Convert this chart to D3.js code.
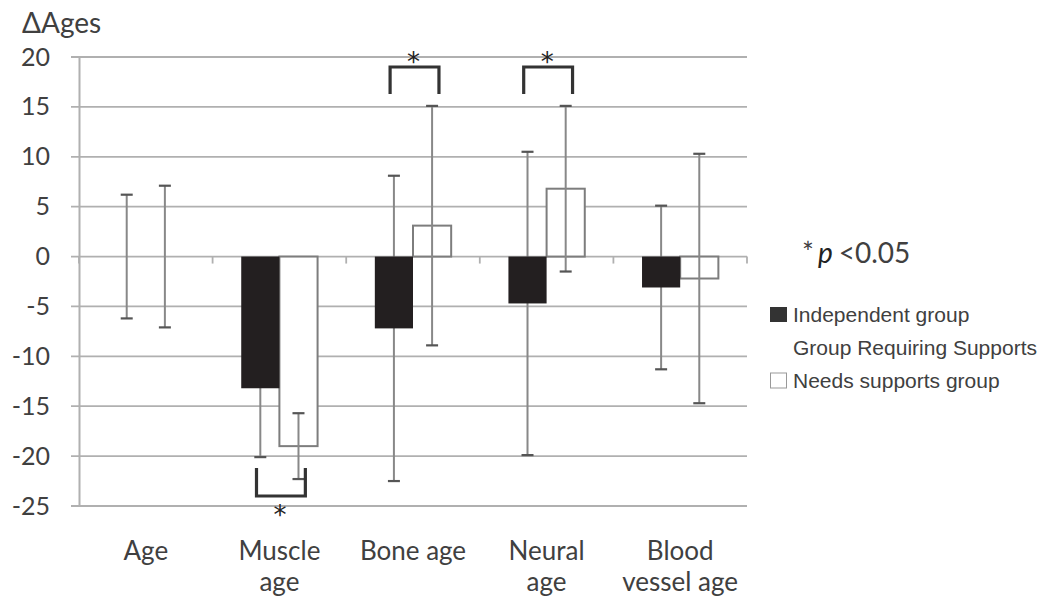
<!DOCTYPE html>
<html lang="en">
<head>
  <meta charset="UTF-8" />
  <script src="https://d3js.org/d3.v7.min.js"></script>
  <style>
    html, body { margin: 0; padding: 0; background: #fff; }
    svg { display: block; }
  </style>
</head>
<body>
<svg id="chart" width="1046" height="604"></svg>
<script>
// categories and the two groups
var categories = ["Age", "Muscle age", "Bone age", "Neural age", "Blood vessel age"];
var catLabels = [["Age"], ["Muscle", "age"], ["Bone age"], ["Neural", "age"], ["Blood", "vessel age"]];
var groups = ["independent", "needs"];
var groupNames = ["Independent group", "Group Requiring Supports", "Needs supports group"];

// mean delta ages and SD
var independentMean = [0, -13.2, -7.2, -4.7, -3.1];
var independentSD   = [6.2, 6.9, 15.3, 15.2, 8.2];
var needsMean       = [0, -19.0, 3.1, 6.8, -2.2];
var needsSD         = [7.1, 3.3, 12.0, 8.3, 12.5];

var yTicks = [20, 15, 10, 5, 0, -5, -10, -15, -20, -25];

// significance brackets: category, where the bar of the bracket sits, where its legs end
var sigCats = ["Muscle age", "Bone age", "Neural age"];
var sigBar  = [-24.0, 19.0, 19.0];
var sigLeg  = [-21.2, 16.3, 16.3];

var svg = d3.select("#chart");
// note: "top" is taken by window.top, so use other names
var plotL = 79, plotR = 747, plotT = 57, plotB = 506;

var y = d3.scaleLinear().domain([-25, 20]).range([plotB, plotT]);
var x = d3.scaleBand().domain(categories).range([plotL, plotR]).padding(0);
// excel gap width 150% -> outer padding .75 bar on each side
var x1 = d3.scaleBand().domain(groups).range([0, x.bandwidth()]).paddingInner(0).paddingOuter(0.75);

var data = [];
categories.forEach(function(c, i) {
  data.push({cat: c, g: "independent", v: independentMean[i], sd: independentSD[i]});
  data.push({cat: c, g: "needs", v: needsMean[i], sd: needsSD[i]});
});

var grid = "#b0b0b0";
var txt = "#404040";
var calibriLike = "Lato, 'Open Sans', sans-serif";

// gridlines (they run a bit left of the axis like the tick marks)
svg.append("g")
  .selectAll("line")
  .data(yTicks)
  .join("line")
    .attr("x1", plotL - 8).attr("x2", plotR)
    .attr("y1", function(d) { return y(d); })
    .attr("y2", function(d) { return y(d); })
    .attr("stroke", grid).attr("stroke-width", 1.8);

// y axis, plain hyphen for the minus like the original
var yAxis = svg.append("g")
  .attr("transform", "translate(" + plotL + ",0)")
  .call(d3.axisLeft(y).tickValues(yTicks).tickSizeInner(0).tickSizeOuter(0).tickPadding(29)
    .tickFormat(function(d) { return String(d); }));
yAxis.select(".domain").attr("stroke", grid).attr("stroke-width", 2);
yAxis.selectAll("text")
  .attr("fill", txt)
  .style("font-family", calibriLike)
  .style("font-size", "25px");

// x axis on the zero line with tick marks between categories
var xb = d3.range(categories.length + 1).map(function(i) { return plotL + i * x.step(); });
svg.append("g")
  .selectAll("line")
  .data(xb)
  .join("line")
    .attr("x1", function(d) { return d; }).attr("x2", function(d) { return d; })
    .attr("y1", y(0)).attr("y2", y(0) + 7)
    .attr("stroke", grid).attr("stroke-width", 1.8);

function barX(d) { return x(d.cat) + x1(d.g); }
function barY(d) { return Math.min(y(d.v), y(0)); }
function barH(d) { return Math.abs(y(d.v) - y(0)); }

// white bars first so the whiskers show through them
svg.append("g")
  .selectAll("rect")
  .data(data.filter(function(d) { return d.g === "needs" && d.v !== 0; }))
  .join("rect")
    .attr("x", barX).attr("y", barY)
    .attr("width", x1.bandwidth()).attr("height", barH)
    .attr("fill", "#fff").attr("stroke", "#7d7d7d").attr("stroke-width", 2);

// error bars
var eb = svg.append("g").selectAll("g").data(data).join("g");
eb.append("line")
  .attr("x1", function(d) { return barX(d) + x1.bandwidth() / 2; })
  .attr("x2", function(d) { return barX(d) + x1.bandwidth() / 2; })
  .attr("y1", function(d) { return y(d.v + d.sd); })
  .attr("y2", function(d) { return y(d.v - d.sd); })
  .attr("stroke", "#888").attr("stroke-width", 2);
[1, -1].forEach(function(s) {
  eb.append("line")
    .attr("x1", function(d) { return barX(d) + x1.bandwidth() / 2 - 6; })
    .attr("x2", function(d) { return barX(d) + x1.bandwidth() / 2 + 6; })
    .attr("y1", function(d) { return y(d.v + s * d.sd); })
    .attr("y2", function(d) { return y(d.v + s * d.sd); })
    .attr("stroke", "#555").attr("stroke-width", 2.2);
});

// black bars
svg.append("g")
  .selectAll("rect")
  .data(data.filter(function(d) { return d.g === "independent" && d.v !== 0; }))
  .join("rect")
    .attr("x", barX).attr("y", barY)
    .attr("width", x1.bandwidth()).attr("height", barH)
    .attr("fill", "#231f20");

// significance brackets
var bw = x1.bandwidth();
sigCats.forEach(function(c, i) {
  var cx = x(c) + x.bandwidth() / 2;
  var xl = cx - 0.6 * bw, xr = cx + 0.68 * bw;
  svg.append("path")
    .attr("d", "M" + xl + "," + y(sigLeg[i]) + "V" + y(sigBar[i]) + "H" + xr + "V" + y(sigLeg[i]))
    .attr("fill", "none").attr("stroke", "#333").attr("stroke-width", 3.2);
  var ty = sigBar[i] > 0 ? y(sigBar[i]) + 4 : y(sigBar[i]) + 28;
  svg.append("text")
    .attr("x", (xl + xr) / 2 - 1).attr("y", ty)
    .attr("text-anchor", "middle")
    .attr("fill", "#222")
    .style("font-family", "'DejaVu Sans', sans-serif")
    .style("font-size", "26px")
    .text("*");
});

// category labels
var xlab = svg.append("g").selectAll("text").data(categories).join("text")
  .attr("text-anchor", "middle")
  .attr("fill", txt)
  .style("font-family", calibriLike)
  .style("font-size", "26px")
  .attr("x", function(d) { return x(d) + x.bandwidth() / 2; })
  .attr("y", 560);
xlab.selectAll("tspan")
  .data(function(d, i) { return catLabels[i]; })
  .join("tspan")
    .attr("x", function() { return this.parentNode.getAttribute("x"); })
    .attr("dy", function(d, i) { return i ? 31 : 0; })
    .text(function(d) { return d; });

// y title
svg.append("text")
  .attr("x", 22).attr("y", 33)
  .attr("fill", txt)
  .style("font-family", calibriLike)
  .style("font-size", "28px")
  .text("\u0394Ages");

// p value note
var pn = svg.append("text")
  .attr("x", 802).attr("y", 263)
  .attr("fill", txt)
  .style("font-family", calibriLike)
  .style("font-size", "28px");
pn.append("tspan").text("*");
pn.append("tspan").attr("dx", 4).style("font-style", "italic").attr("fill", "#222").text("p");
pn.append("tspan").attr("dx", 6).text("<0.05");

// legend
var legFont = "'Liberation Sans', Arial, sans-serif";
var legY = [322, 355, 388];
svg.append("rect").attr("x", 770).attr("y", legY[0] - 15).attr("width", 17).attr("height", 15).attr("fill", "#333");
svg.append("rect").attr("x", 770.5).attr("y", legY[2] - 15).attr("width", 16).attr("height", 15)
  .attr("fill", "#fff").attr("stroke", "#999").attr("stroke-width", 1);
svg.append("g").selectAll("text").data(groupNames).join("text")
  .attr("x", 793)
  .attr("y", function(d, i) { return legY[i]; })
  .attr("fill", txt)
  .style("font-family", legFont)
  .style("font-size", "21px")
  .text(function(d) { return d; });
</script>
</body>
</html>
